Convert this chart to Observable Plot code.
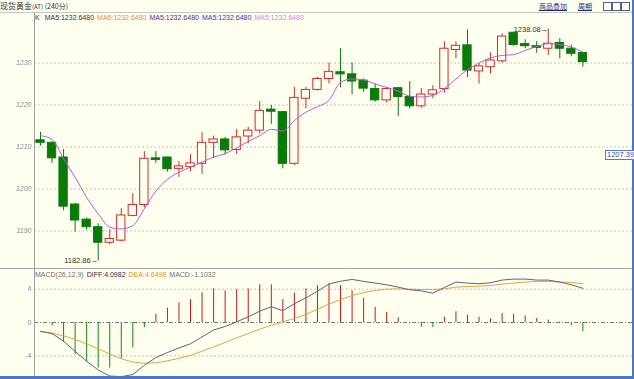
<!DOCTYPE html>
<html><head><meta charset="utf-8">
<script src="https://cdn.jsdelivr.net/npm/d3@7"></script>
<script src="https://cdn.jsdelivr.net/npm/@observablehq/plot@0.6"></script>
<style>
html,body{margin:0;padding:0;}
body{width:634px;height:379px;background:#fffff0;position:relative;overflow:hidden;font-family:"Liberation Sans",Arial,sans-serif;}
.abs{position:absolute;white-space:nowrap;}
.hl{position:absolute;height:1px;}
.vl{position:absolute;width:1px;}
</style></head>
<body>
<div class="abs" style="left:0px;top:0px;font:8px 'Noto Sans CJK SC',sans-serif;color:#333;line-height:12px;">现货黄金<span style="font-size:6px">(AT)</span> <span style="font-size:7px">(240分)</span></div>
<div class="abs" style="left:539px;top:1px;font:7px 'Noto Sans CJK SC',sans-serif;color:#1a2a80;text-decoration:underline;line-height:10px;">商品叠加</div>
<div class="abs" style="left:578px;top:1px;font:7px 'Noto Sans CJK SC',sans-serif;color:#1a2a80;text-decoration:underline;line-height:10px;">周期</div>
<div class="abs" style="left:603px;top:2px;width:7px;height:7px;border:1px solid #506090;"></div>
<div class="abs" style="left:612px;top:2px;width:7px;height:7px;border:1px solid #506090;"></div>
<div class="abs" style="left:621px;top:2px;width:7px;height:7px;border:1px solid #506090;"></div>
<div class="hl" style="left:0;top:12px;width:634px;background:#c8c8c0;"></div>
<div id="main" class="abs" style="left:0;top:13px;"></div>
<div id="legend" class="abs" style="left:35px;top:13px;font-size:7px;line-height:10px;"></div>
<div class="hl" style="left:0;top:268px;width:634px;background:#a8a8a8;"></div>
<div id="macd" class="abs" style="left:0;top:269px;"></div>
<div id="legend2" class="abs" style="left:35px;top:270px;font-size:7px;line-height:10px;"></div>
<div class="vl" style="left:34px;top:13px;height:364px;background:#a0a0a0;"></div>
<div class="abs" style="left:632px;top:0;width:2px;height:379px;background:#4a78c0;"></div>
<div class="abs" style="left:0;top:376px;width:634px;height:3px;background:#4a78c0;"></div>
<div class="abs" style="left:605px;top:150px;height:8px;padding:0 1px;border:1px solid #5575d5;background:#fffff0;color:#3050d0;font-size:7.5px;line-height:8px;">1207.39</div>
<script>
// ---- data ----
const opens  = [1211.6,1211.0,1207.5,1196.3,1192.7,1190.9,1187.2,1187.7,1193.6,1196.2,1207.3,1207.5,1204.8,1205.2,1206.0,1211.0,1211.8,1209.3,1212.5,1213.9,1218.9,1218.3,1206.0,1221.5,1223.6,1226.2,1227.8,1227.3,1225.8,1223.8,1221.1,1224.0,1221.9,1219.7,1222.5,1223.8,1233.1,1234.2,1228.0,1229.0,1230.4,1237.2,1234.5,1234.0,1233.4,1234.8,1233.4,1232.4];
const highs  = [1213.5,1211.2,1209.4,1196.6,1193.1,1191.7,1190.3,1195.3,1198.9,1208.9,1208.9,1207.6,1206.5,1208.2,1213.4,1212.6,1212.3,1214.2,1214.7,1220.8,1219.9,1218.4,1224.2,1224.2,1226.6,1230.0,1233.4,1230.0,1226.2,1225.0,1224.2,1224.2,1225.6,1223.9,1224.6,1235.1,1235.0,1237.9,1229.8,1232.4,1237.0,1237.3,1235.5,1235.1,1238.08,1235.8,1234.3,1232.5];
const lows   = [1210.2,1206.1,1194.8,1189.7,1190.2,1182.86,1186.7,1187.4,1193.4,1195.5,1206.1,1204.0,1202.8,1204.1,1203.5,1207.3,1208.1,1208.2,1210.8,1213.1,1215.4,1204.8,1205.6,1219.1,1223.3,1225.0,1224.1,1222.4,1223.0,1220.7,1220.5,1217.3,1219.1,1219.2,1221.5,1222.8,1231.0,1226.5,1225.0,1227.4,1230.0,1234.0,1233.4,1232.3,1231.8,1231.0,1231.5,1229.0];
const closes = [1211.0,1207.3,1195.8,1192.5,1190.9,1187.2,1188.1,1193.7,1196.2,1207.2,1206.9,1204.7,1205.4,1206.1,1211.0,1211.8,1209.2,1212.3,1213.9,1218.6,1218.4,1206.0,1221.7,1223.6,1226.2,1227.9,1227.3,1225.6,1223.9,1221.1,1223.8,1221.9,1219.7,1222.5,1223.5,1233.4,1234.1,1228.2,1229.2,1230.6,1236.3,1234.3,1234.0,1233.6,1234.6,1233.4,1232.2,1230.2];
const ma5    = [1212.7,1211.8,1207.2,1202.8,1198.0,1194.1,1190.9,1190.5,1191.3,1195.3,1199.5,1202.3,1204.0,1205.2,1206.4,1207.6,1208.4,1209.8,1211.3,1212.7,1214.2,1213.8,1216.3,1218.3,1219.6,1221.1,1225.4,1226.2,1226.0,1225.0,1224.2,1223.3,1222.1,1221.9,1222.3,1223.9,1226.2,1228.4,1230.0,1231.2,1231.8,1232.0,1233.0,1233.9,1234.6,1234.4,1233.8,1232.6];
const macdHist = [0,-0.42,-2.32,-3.86,-4.75,-5.46,-5.46,-4.35,-3.05,-0.62,0.98,1.72,2.35,2.75,3.56,4.04,3.80,3.96,4.04,4.53,4.53,2.75,3.52,4.04,4.44,4.65,4.44,3.80,2.91,1.82,1.21,0.57,-0.16,-0.57,-0.61,0.65,1.29,0.89,0.65,0.44,1.09,1.01,0.77,0.48,0.28,0.05,-0.40,-1.10];
const diff   = [-1.06,-1.32,-2.25,-3.45,-4.65,-5.7,-6.42,-6.5,-6.25,-5.15,-4.2,-3.6,-3.05,-2.55,-1.73,-0.9,-0.48,0.08,0.68,1.36,1.9,1.42,2.25,2.96,3.75,4.62,4.95,5.17,4.93,4.73,4.53,4.24,3.92,3.80,3.52,4.20,4.85,4.73,4.65,4.77,5.09,5.21,5.21,5.09,5.09,4.85,4.53,4.10];
const dea    = [-1.1,-1.28,-1.6,-2.02,-2.57,-3.17,-3.78,-4.35,-4.74,-4.9,-4.82,-4.6,-4.3,-3.95,-3.44,-2.92,-2.4,-1.84,-1.32,-0.8,-0.32,0.08,0.48,0.98,1.58,2.22,2.75,3.23,3.60,3.84,4.0,4.04,4.0,3.96,3.96,4.04,4.24,4.32,4.36,4.44,4.61,4.73,4.85,4.93,4.93,4.85,4.81,4.65];
const priceTicks = [1190,1200,1210,1220,1230];
const macdTicks = [-4,0,4];
const legendItems = [["K ","#333"],["MA5:1232.6480","#333"],["MA5:1232.6480","#f08c28"],["MA5:1232.6480","#5a2a8a"],["MA5:1232.6480","#2a3ac8"],["MA5:1232.6480","#e080f0"]];
const legend2Items = [["MACD(26,12,9)","#707070"],["DIFF:4.0982","#2a2a5a"],["DEA:4.6498","#f08c28"],["MACD:-1.1032","#707070"]];
const highIdx = 44, lowIdx = 5;

const RED = "#d42a2a", GREEN = "#0a7a0a", BG = "#fffff0";
const idx = d3.range(opens.length);
const up = i => closes[i] >= opens[i];
const xDomain = [-0.52, 51.3];
const font = "'Liberation Sans', Arial, sans-serif";

const main = Plot.plot({
  width: 634, height: 255,
  marginLeft: 34, marginRight: 2, marginTop: 0, marginBottom: 0,
  style: {background: "transparent", fontFamily: font, fontSize: "7px", overflow: "visible"},
  x: {domain: xDomain, axis: null},
  y: {domain: [1181.07, 1241.79], axis: null},
  marks: [
    Plot.ruleY(priceTicks, {stroke: "#c4c4c4", strokeDasharray: "2,2"}),
    Plot.axisY(priceTicks, {anchor: "left", tickSize: 0, tickPadding: 3, fill: "#909090", fontStyle: "italic", tickFormat: d => String(d)}),
    Plot.ruleX(idx, {x: i => i, y1: i => lows[i], y2: i => highs[i], stroke: i => up(i) ? RED : GREEN}),
    Plot.rect(idx, {x1: i => i - 0.36, x2: i => i + 0.36, y1: i => opens[i], y2: i => closes[i],
      fill: i => up(i) ? BG : GREEN, stroke: i => up(i) ? RED : GREEN, strokeWidth: 1}),
    Plot.line(idx, {x: i => i, y: i => ma5[i], stroke: "#b060e0", strokeWidth: 1, curve: "monotone-x"}),
    Plot.text([highIdx], {x: i => i, y: i => highs[i], text: i => highs[i].toFixed(2) + "→", textAnchor: "end", dx: 0, dy: 1, fill: "#333", fontSize: 7.5}),
    Plot.text([lowIdx], {x: i => i, y: i => lows[i], text: i => lows[i].toFixed(2) + "→", textAnchor: "end", dx: 0, dy: 0, fill: "#333", fontSize: 7.5})
  ]
});
document.getElementById("main").appendChild(main);

const macd = Plot.plot({
  width: 634, height: 107,
  marginLeft: 34, marginRight: 2, marginTop: 0, marginBottom: 0,
  style: {background: "transparent", fontFamily: font, fontSize: "7px", overflow: "visible"},
  x: {domain: xDomain, axis: null},
  y: {domain: [-6.48, 6.36], axis: null},
  marks: [
    Plot.ruleY(macdTicks.filter(d => d !== 0), {stroke: "#c4c4c4", strokeDasharray: "2,2"}),
    Plot.ruleY([0], {stroke: "#777", strokeDasharray: "4,2,1,2"}),
    Plot.axisY(macdTicks, {anchor: "left", tickSize: 0, tickPadding: 3, fill: "#909090", tickFormat: d => String(d)}),
    Plot.ruleX(idx.filter(i => macdHist[i] !== 0), {x: i => i, y1: 0, y2: i => macdHist[i], stroke: i => macdHist[i] >= 0 ? "#cc1818" : "#108a10", strokeWidth: 1}),
    Plot.line(idx, {x: i => i, y: i => dea[i], stroke: "#f0a040", strokeWidth: 1, clip: true}),
    Plot.line(idx, {x: i => i, y: i => diff[i], stroke: "#56687a", strokeWidth: 1, clip: true})
  ]
});
document.getElementById("macd").appendChild(macd);

function fillLegend(id, items) {
  const el = document.getElementById(id);
  items.forEach(([t, c]) => {
    const s = document.createElement("span");
    s.textContent = t;
    s.style.color = c;
    s.style.marginRight = "3px";
    el.appendChild(s);
  });
}
fillLegend("legend", legendItems);
fillLegend("legend2", legend2Items);
</script>
</body></html>
